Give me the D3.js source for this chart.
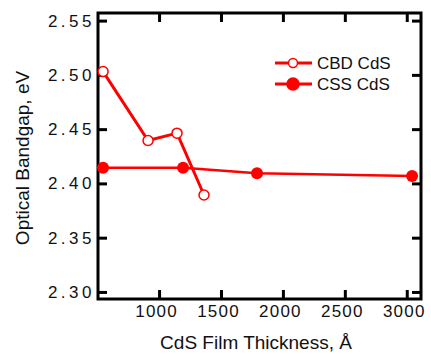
<!DOCTYPE html>
<html>
<head>
<meta charset="utf-8">
<script src="https://cdn.jsdelivr.net/npm/d3@7"></script>
<style>
  body { margin: 0; background: #fff; }
  text { font-family: "Liberation Sans", Arial, sans-serif; }
</style>
</head>
<body>
<svg width="431" height="354"></svg>
<script>
// thickness (Å) and bandgap (eV)
const cbdThickness = [548, 911, 1145, 1363];
const cbdBandgap = [2.503, 2.4395, 2.4463, 2.3893];
const cssThickness = [548, 1194, 1791, 3043];
const cssBandgap = [2.4145, 2.4145, 2.4094, 2.4069];
const xTicks = [1000, 1500, 2000, 2500, 3000];
const yTicks = [2.30, 2.35, 2.40, 2.45, 2.50, 2.55];
const seriesNames = ["CBD CdS", "CSS CdS"];

const svg = d3.select("svg"),
    mLeft = 98, mRight = 421, mTop = 13, mBottom = 299;

const x = d3.scaleLinear().domain([507, 3115]).range([mLeft, mRight]),
    y = d3.scaleLinear().domain([2.2935, 2.557]).range([mBottom, mTop]);

const red = "#ff0000";

// frame
svg.append("rect")
    .attr("x", mLeft).attr("y", mTop)
    .attr("width", mRight - mLeft).attr("height", mBottom - mTop)
    .attr("fill", "none").attr("stroke", "#000").attr("stroke-width", 3);

function styleAxis(g) {
  g.select(".domain").remove();
  g.selectAll(".tick line").attr("stroke", "#000").attr("stroke-width", 3);
  g.selectAll(".tick text").attr("font-size", 17).attr("fill", "#111");
}

svg.append("g")
    .attr("transform", "translate(0," + mBottom + ")")
    .call(d3.axisBottom(x).tickValues(xTicks).tickSize(-9).tickPadding(6).tickFormat(d3.format("d")))
    .call(styleAxis)
    .selectAll(".tick text").attr("letter-spacing", 1.2).attr("dx", -3);

svg.append("g")
    .attr("transform", "translate(" + mLeft + ",0)")
    .call(d3.axisLeft(y).tickValues(yTicks).tickSize(-9).tickPadding(3).tickFormat(d3.format(".2f")))
    .call(styleAxis)
    .selectAll(".tick text").attr("letter-spacing", 3.5);

svg.append("g")
    .attr("transform", "translate(" + mRight + ",0)")
    .call(d3.axisRight(y).tickValues(yTicks).tickSize(-9).tickFormat(""))
    .call(styleAxis);

svg.append("g")
    .attr("transform", "translate(0," + mTop + ")")
    .call(d3.axisTop(x).tickValues(xTicks).tickSize(-9).tickFormat(""))
    .call(styleAxis);

const line = d3.line().x(d => x(d[0])).y(d => y(d[1]));
const cbd = d3.zip(cbdThickness, cbdBandgap),
    css = d3.zip(cssThickness, cssBandgap);

svg.append("path").datum(css)
    .attr("d", line).attr("fill", "none").attr("stroke", red).attr("stroke-width", 2.5);
svg.selectAll(".css").data(css).enter().append("circle")
    .attr("cx", d => x(d[0])).attr("cy", d => y(d[1])).attr("r", 6)
    .attr("fill", red);

svg.append("path").datum(cbd)
    .attr("d", line).attr("fill", "none").attr("stroke", red).attr("stroke-width", 3);
svg.selectAll(".cbd").data(cbd).enter().append("circle")
    .attr("cx", d => x(d[0])).attr("cy", d => y(d[1])).attr("r", 5)
    .attr("fill", "#fff").attr("stroke", red).attr("stroke-width", 1.5);

// legend
const legend = svg.append("g");
seriesNames.forEach((name, i) => {
  const ly = 63 + i * 21;
  legend.append("line").attr("x1", 275).attr("x2", 312).attr("y1", ly).attr("y2", ly)
      .attr("stroke", red).attr("stroke-width", 3);
  legend.append("circle").attr("cx", 293).attr("cy", ly).attr("r", i ? 6 : 4.5)
      .attr("fill", i ? red : "#fff").attr("stroke", red).attr("stroke-width", 1.5);
  legend.append("text").attr("x", 317).attr("y", ly + 6)
      .attr("font-size", 17).attr("fill", "#111").text(name);
});

svg.append("text")
    .attr("transform", "translate(29,158) rotate(-90)")
    .attr("text-anchor", "middle").attr("font-size", 19).attr("fill", "#111")
    .text("Optical Bandgap, eV");

svg.append("text")
    .attr("x", 256).attr("y", 349)
    .attr("text-anchor", "middle").attr("font-size", 19).attr("fill", "#111")
    .text("CdS Film Thickness, Å");
</script>
</body>
</html>
